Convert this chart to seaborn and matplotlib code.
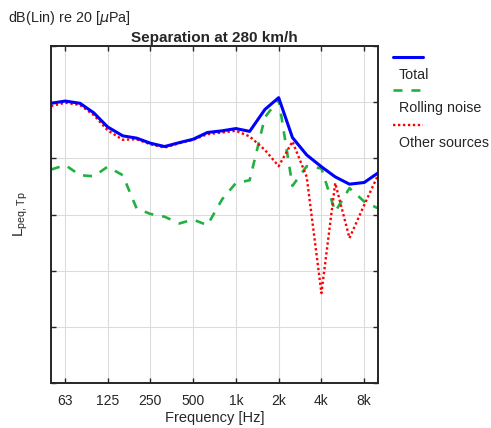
import numpy as np
import pandas as pd
import matplotlib
matplotlib.use("Agg")
import matplotlib.pyplot as plt
import seaborn as sns
from matplotlib.lines import Line2D

freqs = [50, 63, 80, 100, 125, 160, 200, 250, 315, 400, 500, 630, 800,
         1000, 1250, 1600, 2000, 2500, 3150, 4000, 5000, 6300, 8000, 10000]
total = [49.8, 50.2, 49.8, 48.1, 45.6, 44.0, 43.6, 42.7, 42.1, 42.8, 43.4, 44.6,
         44.9, 45.3, 44.8, 48.7, 50.8, 43.7, 40.6, 38.5, 36.7, 35.4, 35.7, 37.4]
rolling = [38.0, 38.8, 37.0, 36.8, 38.5, 37.0, 31.1, 30.1, 29.6, 28.4, 29.1, 28.1,
           32.7, 35.6, 36.1, 47.3, 50.5, 35.1, 38.6, 38.2, 30.5, 34.7, 32.3, 31.1]
other = [49.3, 49.9, 49.5, 47.7, 45.0, 43.3, 43.4, 42.5, 41.9, 42.7, 43.3, 44.3,
         44.6, 44.9, 43.9, 41.5, 38.6, 43.0, 36.7, 16.0, 35.6, 25.8, 31.7, 37.0]
xticks = [63, 125, 250, 500, 1000, 2000, 4000, 8000]
xticklabels = ["63", "125", "250", "500", "1k", "2k", "4k", "8k"]
series_names = ["Total", "Rolling noise", "Other sources"]

sns.set_theme(style="ticks")
plt.rcParams['font.family'] = ['Liberation Sans', 'DejaVu Sans']

fig = plt.figure(figsize=(4.91, 4.28), dpi=100)
ax = fig.add_axes([51/491, 1-383/428, (378-51)/491, (383-46)/428])

styles = {
    "Total": dict(color="#0000ff", lw=2.2, ls="-"),
    "Rolling noise": dict(color="#22b040", lw=1.9, ls=(0, (3.4, 3.4))),
    "Other sources": dict(color="#ff0000", lw=1.7, ls=(0, (1, 1.1))),
}
data = {"Total": total, "Rolling noise": rolling, "Other sources": other}
for name in ["Rolling noise", "Other sources", "Total"]:
    st = styles[name]
    sns.lineplot(x=freqs, y=data[name], ax=ax, color=st["color"],
                 linewidth=st["lw"], linestyle=st["ls"], zorder=3 if name == "Total" else 2)

ax.set_xscale("log")
ax.set_xlim(50, 10000)
ax.set_ylim(0, 60)
ax.set_xticks(xticks)
ax.set_xticklabels(xticklabels)
ax.minorticks_off()
ax.set_yticks(np.arange(0, 61, 10))
ax.set_yticklabels([])
ax.grid(True, color="#dcdcdc", linewidth=0.8)
ax.tick_params(direction="in", top=True, right=True, length=3.5, width=1.0,
               labelsize=10, colors="#262626", pad=8)
for s in ax.spines.values():
    s.set_linewidth(1.4)
    s.set_color("#262626")
ax.set_xlabel("Frequency [Hz]", fontsize=10.5, color="#262626", labelpad=2)
ax.set_ylabel(r"L$_{\mathregular{peq,Tp}}$", fontsize=11, color="#262626")
ax.yaxis.set_label_coords((30 - 51) / 327, 0.5)
ax.set_title("Separation at 280 km/h", fontsize=11, fontweight="bold", pad=3)
fig.text(8/491, 1-18/428, r"dB(Lin) re 20 [$\mu$Pa]", fontsize=10.4, va="center", ha="left")

# legend (handle above label)
leg_y = [57, 90, 125]
for name, y in zip(series_names, leg_y):
    st = styles[name]
    fig.add_artist(Line2D([393/491, 423/491], [1-y/428, 1-y/428], color=st["color"],
                          lw=st["lw"], ls=st["ls"], transform=fig.transFigure))
    fig.text(399/491, 1-(y+18)/428, name, fontsize=10.3, va="center", ha="left")

fig.savefig("out.png", dpi=100)
